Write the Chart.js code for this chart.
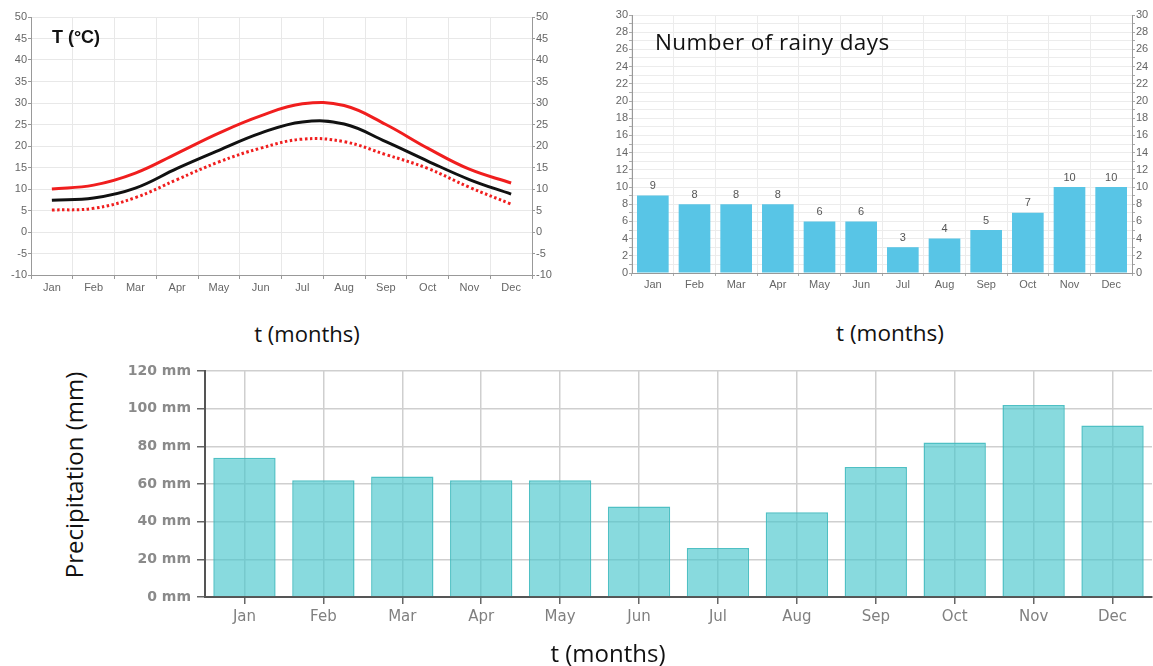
<!DOCTYPE html>
<html>
<head>
<meta charset="utf-8">
<script src="https://cdn.jsdelivr.net/npm/chart.js@4.4.1/dist/chart.umd.min.js"></script>
<style>
  html, body { margin: 0; padding: 0; background: #fff; }
  body { width: 1153px; height: 666px; position: relative; overflow: hidden; font-family: "Open Sans", "Noto Sans", sans-serif; }
  .box { position: absolute; }
  .lbl { position: absolute; color: #111; white-space: nowrap; line-height: 1; }
</style>
</head>
<body>
<div class="box" style="left:0;top:0;width:560px;height:300px;"><canvas id="cTemp"></canvas></div>
<div class="box" style="left:600px;top:0;width:553px;height:300px;"><canvas id="cRain"></canvas></div>
<div class="box" style="left:100px;top:355px;width:1053px;height:300px;"><canvas id="cPrec"></canvas></div>

<div class="lbl" style="left:76px;top:37px;font-family:'Liberation Sans',Arial,sans-serif;font-weight:bold;font-size:18px;transform:translate(-50%,-50%);">T (°C)</div>
<div class="lbl" style="left:655px;top:42px;font-size:22.5px;letter-spacing:0.4px;transform:translateY(-50%);">Number of rainy days</div>
<div class="lbl" style="left:307px;top:333px;font-size:22px;transform:translate(-50%,-50%);">t (months)</div>
<div class="lbl" style="left:890px;top:333px;font-size:22.5px;transform:translate(-50%,-50%);">t (months)</div>
<div class="lbl" style="left:608px;top:653px;font-size:24px;transform:translate(-50%,-50%);">t (months)</div>
<div class="lbl" style="left:74px;top:475px;font-size:24px;transform:translate(-50%,-50%) rotate(-90deg);">Precipitation (mm)</div>

<script>
// ---- data ----
const months = ['Jan','Feb','Mar','Apr','May','Jun','Jul','Aug','Sep','Oct','Nov','Dec'];
const tempMax  = [10.0, 10.9, 13.7, 18.3, 23.0, 27.0, 29.8, 29.4, 25.0, 19.5, 14.6, 11.4];
const tempMean = [7.4, 7.9, 10.2, 14.8, 19.0, 23.0, 25.6, 25.1, 21.0, 16.5, 12.2, 8.8];
const tempMin  = [5.1, 5.5, 8.0, 12.2, 16.3, 19.5, 21.6, 21.0, 18.0, 14.8, 10.4, 6.5];
const rainyDays = [9, 8, 8, 8, 6, 6, 3, 4, 5, 7, 10, 10];
const precipitation = [74, 62, 64, 62, 62, 48, 26, 45, 69, 82, 102, 91];
const tempRange = [-10, 50];
const rainRange = [0, 30];
const precRange = [0, 120];

Chart.defaults.animation = false;
Chart.defaults.responsive = true;
Chart.defaults.maintainAspectRatio = false;
Chart.defaults.plugins.legend.display = false;
Chart.defaults.plugins.tooltip.enabled = false;

const smallFont = { family: "'Liberation Sans', Arial, sans-serif", size: 11 };
const fixW = w => (s => { s.width = w; });
const fixH = h => (s => { s.height = h; });

// ---- Temperature ----
function tempY(pos, w, grid) {
  return {
    position: pos, min: tempRange[0], max: tempRange[1],
    afterFit: fixW(w),
    ticks: { stepSize: 5, color: '#666', font: smallFont, padding: 1 },
    grid: { color: '#e8e8e8', drawOnChartArea: grid, tickLength: 3, tickColor: '#999' },
    border: { color: '#999', width: 1 }
  };
}
const lineBase = { borderWidth: 3, pointRadius: 0, tension: 0.4, yAxisID: 'y' };
new Chart(document.getElementById('cTemp'), {
  type: 'line',
  data: {
    labels: months,
    datasets: [
      Object.assign({ data: tempMax, borderColor: '#f01e1e' }, lineBase),
      Object.assign({ data: tempMean, borderColor: '#111' }, lineBase),
      Object.assign({ data: tempMin, borderColor: '#f01e1e', borderDash: [2.5, 2.5], borderCapStyle: 'butt' }, lineBase)
    ]
  },
  options: {
    layout: { padding: { top: 17, left: 0, right: 0, bottom: 0 } },
    scales: {
      x: {
        offset: true, afterFit: fixH(25),
        ticks: { color: '#666', font: smallFont, padding: 2 },
        grid: { offset: true, color: '#e8e8e8', tickLength: 4, tickColor: '#999' },
        border: { color: '#999', width: 1 }
      },
      y: tempY('left', 31, true),
      y2: tempY('right', 28, false)
    }
  }
});

// ---- Rainy days ----
function rainY(pos, w, grid) {
  return {
    position: pos, min: rainRange[0], max: rainRange[1],
    afterFit: fixW(w),
    ticks: { stepSize: 1, autoSkip: false, color: '#666', font: smallFont, padding: 1,
      callback: v => (v % 2 === 0 ? String(v) : '') },
    grid: { color: '#ececec', drawOnChartArea: grid, tickLength: 3, tickColor: '#aaa' },
    border: { color: '#999', width: 1 }
  };
}
const valueLabels = {
  id: 'valueLabels',
  afterDatasetsDraw(chart) {
    const ctx = chart.ctx;
    const meta = chart.getDatasetMeta(0);
    ctx.save();
    ctx.fillStyle = '#555';
    ctx.font = "11px 'Liberation Sans', Arial, sans-serif";
    ctx.textAlign = 'center';
    ctx.textBaseline = 'bottom';
    meta.data.forEach((bar, i) => {
      ctx.fillText(String(chart.data.datasets[0].data[i]), bar.x, bar.y - 4);
    });
    ctx.restore();
  }
};
new Chart(document.getElementById('cRain'), {
  type: 'bar',
  data: {
    labels: months,
    datasets: [{ data: rainyDays, backgroundColor: '#58c5e6', categoryPercentage: 1, barPercentage: 0.76 }]
  },
  options: {
    layout: { padding: { top: 15, left: 0, right: 0, bottom: 0 } },
    scales: {
      x: {
        afterFit: fixH(27),
        ticks: { color: '#666', font: smallFont, padding: 2 },
        grid: { offset: true, color: '#ececec', tickLength: 3, tickColor: '#aaa' },
        border: { color: '#999', width: 1 }
      },
      y: rainY('left', 32, true),
      y2: rainY('right', 21, false)
    }
  },
  plugins: [valueLabels]
});

// ---- Precipitation ----
const precYFont = { family: "'DejaVu Sans', sans-serif", size: 14, weight: 'bold' };
const precXFont = { family: "'DejaVu Sans', sans-serif", size: 15 };
new Chart(document.getElementById('cPrec'), {
  type: 'bar',
  data: {
    labels: months,
    datasets: [{ data: precipitation, backgroundColor: 'rgba(72,198,204,0.65)', borderColor: 'rgba(60,185,190,0.9)', borderWidth: 1.5, categoryPercentage: 1, barPercentage: 0.79 }]
  },
  options: {
    layout: { padding: { top: 16, left: 0, right: 1, bottom: 0 } },
    scales: {
      x: {
        afterFit: fixH(58),
        ticks: { color: '#808080', font: precXFont, padding: 4 },
        grid: { offset: false, color: '#cfcfcf', lineWidth: 1.5, tickLength: 7, tickColor: '#666' },
        border: { color: '#555', width: 2 }
      },
      y: {
        min: precRange[0], max: precRange[1], afterFit: fixW(105),
        ticks: { stepSize: 20, color: '#8a8a8a', font: precYFont, padding: 6, callback: v => v + ' mm' },
        grid: { color: '#cfcfcf', lineWidth: 1.5, tickLength: 8, tickColor: '#666' },
        border: { color: '#555', width: 2 }
      }
    }
  }
});
</script>
</body>
</html>
